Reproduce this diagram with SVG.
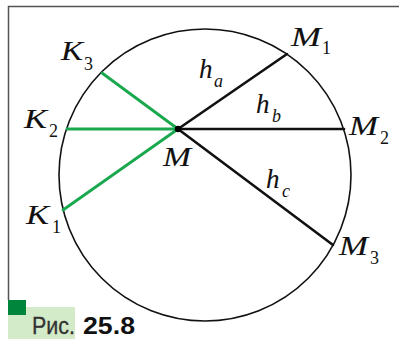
<svg xmlns="http://www.w3.org/2000/svg" width="400" height="339" viewBox="0 0 400 339">
<style>
.lbl{font-family:"Liberation Serif","DejaVu Serif",serif;font-style:italic;font-size:27px;fill:#111;stroke:#111;stroke-width:0.1}
.sub{font-family:"Liberation Serif","DejaVu Serif",serif;font-size:18px;fill:#111}
.blk{stroke:#111;stroke-width:2.6;stroke-linecap:round}
.grn{stroke:#1aa84e;stroke-width:2.8;stroke-linecap:round}
.cap{font-family:"Liberation Sans","DejaVu Sans",sans-serif;font-size:23px}
</style>
<rect width="400" height="339" fill="#fff"/>
<g id="frame">
<path d="M8.5 300 V6.5 H399" fill="none" stroke="#555" stroke-width="1.5"/>
</g>
<g id="circle">
<circle cx="205" cy="175" r="146" fill="none" stroke="#111" stroke-width="1.6"/>
</g>
<g id="connectors">
<line class="grn" x1="178" y1="129" x2="102" y2="73"/>
<line class="grn" x1="178" y1="129" x2="67" y2="129"/>
<line class="grn" x1="178" y1="129" x2="63" y2="210"/>
<line class="blk" x1="178" y1="129" x2="287" y2="54"/>
<line class="blk" x1="178" y1="129" x2="344" y2="129"/>
<line class="blk" x1="178" y1="129" x2="333" y2="245"/>
</g>
<g id="M">
<circle cx="178" cy="129" r="3.2" fill="#000"/>
<text class="lbl" x="163" y="166" textLength="28" lengthAdjust="spacingAndGlyphs">M</text>
</g>
<g id="K3"><text class="lbl" x="61" y="60" textLength="22" lengthAdjust="spacingAndGlyphs">K</text><text class="sub" x="84" y="70">3</text></g>
<g id="K2"><text class="lbl" x="24" y="128" textLength="23" lengthAdjust="spacingAndGlyphs">K</text><text class="sub" x="49" y="137">2</text></g>
<g id="K1"><text class="lbl" x="26" y="224" textLength="23" lengthAdjust="spacingAndGlyphs">K</text><text class="sub" x="52" y="233">1</text></g>
<g id="M1"><text class="lbl" x="291" y="46" textLength="30" lengthAdjust="spacingAndGlyphs">M</text><text class="sub" x="322" y="54">1</text></g>
<g id="M2"><text class="lbl" x="349" y="135" textLength="29" lengthAdjust="spacingAndGlyphs">M</text><text class="sub" x="380" y="144">2</text></g>
<g id="M3"><text class="lbl" x="339" y="255" textLength="29" lengthAdjust="spacingAndGlyphs">M</text><text class="sub" x="370" y="264">3</text></g>
<g id="ha"><text class="lbl" x="199" y="78">h</text><text class="sub" x="214" y="87" font-style="italic">a</text></g>
<g id="hb"><text class="lbl" x="256" y="113">h</text><text class="sub" x="272" y="122" font-style="italic">b</text></g>
<g id="hc"><text class="lbl" x="266" y="188">h</text><text class="sub" x="282" y="197" font-style="italic">c</text></g>
<g id="caption">
<rect x="8" y="307" width="67" height="32" fill="#d3ebc8"/>
<rect x="8" y="300" width="18" height="15" fill="#00863c"/>
<text class="cap" x="32" y="334" fill="#333" stroke="#333" stroke-width="0.3" textLength="43" lengthAdjust="spacingAndGlyphs">Рис.</text>
<text class="cap" x="83" y="334" font-weight="bold" fill="#111" textLength="52" lengthAdjust="spacingAndGlyphs">25.8</text>
</g>
</svg>
